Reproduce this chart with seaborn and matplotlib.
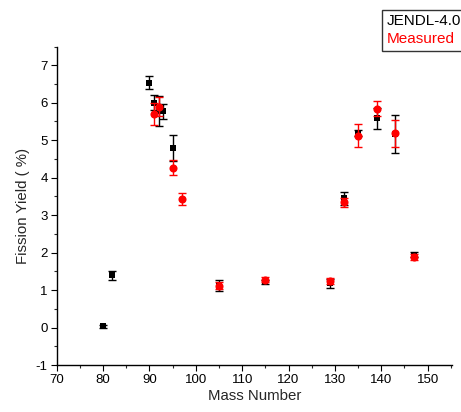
import matplotlib
matplotlib.use("Agg")
import matplotlib.pyplot as plt
import seaborn as sns
import pandas as pd
from matplotlib.ticker import MultipleLocator

# JENDL-4.0 evaluated yields
jendl_mass = [80, 82, 90, 91, 92, 93, 95, 105, 115, 129, 132, 135, 139, 143, 147]
jendl_yield = [0.03, 1.40, 6.54, 6.00, 5.77, 5.77, 4.79, 1.12, 1.22, 1.18, 3.45, 5.20, 5.58, 5.17, 1.95]
jendl_err = [0.03, 0.12, 0.18, 0.20, 0.40, 0.20, 0.35, 0.15, 0.06, 0.12, 0.18, 0.08, 0.27, 0.50, 0.08]

# measured yields
meas_mass = [91, 92, 95, 97, 105, 115, 129, 132, 135, 139, 143, 147]
meas_yield = [5.70, 5.90, 4.26, 3.43, 1.12, 1.28, 1.25, 3.35, 5.12, 5.84, 5.18, 1.89]
meas_err = [0.30, 0.25, 0.20, 0.15, 0.10, 0.06, 0.08, 0.12, 0.30, 0.20, 0.35, 0.08]

jendl = pd.DataFrame({"Mass": jendl_mass, "Yield": jendl_yield, "Err": jendl_err})
meas = pd.DataFrame({"Mass": meas_mass, "Yield": meas_yield, "Err": meas_err})

sns.set_style("ticks")
plt.rcParams["font.family"] = ["Liberation Sans", "DejaVu Sans"]
plt.rcParams["axes.unicode_minus"] = False

fig = plt.figure(figsize=(4.61, 4.12), dpi=100)
ax = fig.add_axes([0.123, 0.114, 0.857, 0.773])

ax.errorbar(jendl["Mass"], jendl["Yield"], yerr=jendl["Err"], fmt="none",
            ecolor="black", elinewidth=1, capsize=3, capthick=1, zorder=2)
sns.scatterplot(data=jendl, x="Mass", y="Yield", marker="s", color="black",
                s=25, edgecolor="black", linewidth=0, ax=ax, zorder=3, label="JENDL-4.0")
ax.errorbar(meas["Mass"], meas["Yield"], yerr=meas["Err"], fmt="none",
            ecolor="red", elinewidth=1, capsize=3, capthick=1, zorder=4)
sns.scatterplot(data=meas, x="Mass", y="Yield", marker="o", color="red",
                s=34, edgecolor="red", linewidth=0, ax=ax, zorder=5, label="Measured")

ax.set_xlim(70, 155.2)
ax.set_ylim(-1, 7.5)
ax.xaxis.set_major_locator(MultipleLocator(10))
ax.xaxis.set_minor_locator(MultipleLocator(5))
ax.yaxis.set_major_locator(MultipleLocator(1))
ax.yaxis.set_minor_locator(MultipleLocator(0.5))
ax.tick_params(which="major", direction="out", length=4, width=0.8, labelsize=9.5,
               colors="black", pad=2.5)
ax.tick_params(which="minor", direction="out", length=2.5, width=0.8)
for s in ["top", "right"]:
    ax.spines[s].set_visible(False)
for s in ["left", "bottom"]:
    ax.spines[s].set_linewidth(1)
    ax.spines[s].set_color("black")

ax.set_xlabel("Mass Number", fontsize=10.8, labelpad=2)
ax.set_ylabel("Fission Yield ( %)", fontsize=10.8, labelpad=4)

handles, labels = ax.get_legend_handles_labels()
ax.get_legend().remove()
leg = fig.legend(handles=handles, labels=labels,
                 loc="upper right", bbox_to_anchor=(1.01, 0.976), frameon=True,
                 fancybox=False, handlelength=0, handletextpad=0, markerscale=0,
                 fontsize=11, borderpad=0.3, labelspacing=0.25, borderaxespad=0)
leg.get_frame().set_edgecolor("black")
leg.get_frame().set_linewidth(1)
for txt, c in zip(leg.get_texts(), ["black", "red"]):
    txt.set_color(c)
for h in leg.legend_handles:
    h.set_visible(False)

fig.savefig("out.png", dpi=100)
